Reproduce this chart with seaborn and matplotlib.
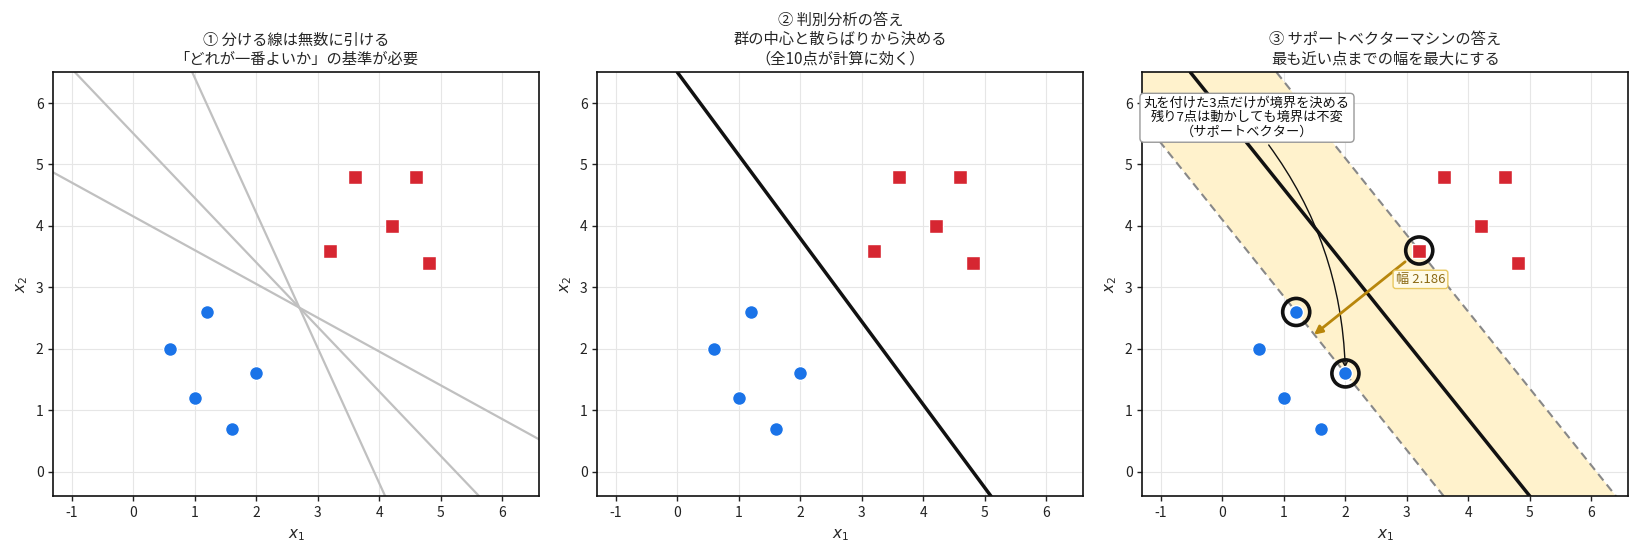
import matplotlib
matplotlib.use("Agg")
import matplotlib.pyplot as plt
import numpy as np
import pandas as pd
import seaborn as sns

# ---------------- data ----------------
blue_x = [0.6, 1.0, 1.2, 1.6, 2.0]
blue_y = [2.0, 1.2, 2.6, 0.7, 1.6]
red_x = [3.2, 3.6, 4.2, 4.6, 4.8]
red_y = [3.6, 4.8, 4.0, 4.8, 3.4]

# panel 1: candidate separating lines through a common point
cand_point = (2.7, 2.67)
cand_slopes = [-0.55, -1.05, -2.2]

# panel 2: discriminant analysis boundary  y = slope*x + intercept
lda_slope = -1.353
lda_intercept = 6.5

# panel 3: SVM boundary and margins  y = slope*x + intercept
svm_slope = -1.25
svm_intercept = 5.85
margin_intercepts = [4.1, 7.6]
sv_x = [1.2, 2.0, 3.2]
sv_y = [2.6, 1.6, 3.6]
margin_width = 2.186
margin_foot = (1.49, 2.23)

titles = [
    "① 分ける線は無数に引ける\n「どれが一番よいか」の基準が必要",
    "② 判別分析の答え\n群の中心と散らばりから決める\n（全10点が計算に効く）",
    "③ サポートベクターマシンの答え\n最も近い点までの幅を最大にする",
]
x_ticks = [-1, 0, 1, 2, 3, 4, 5, 6]
y_ticks = [0, 1, 2, 3, 4, 5, 6]
xlim = (-1.3, 6.6)
ylim = (-0.4, 6.5)

BLUE = "#1a73e8"
RED = "#d62631"

# ---------------- style ----------------
sns.set_theme(style="ticks", rc={
    "axes.edgecolor": "#111111",
    "axes.linewidth": 1.2,
    "xtick.color": "#222222",
    "ytick.color": "#222222",
    "xtick.labelsize": 10,
    "ytick.labelsize": 10,
    "axes.titlesize": 11,
    "axes.labelsize": 11,
    "grid.color": "#e6e6e6",
    "grid.linewidth": 0.8,
})
plt.rcParams['font.family'] = ['Noto Sans CJK JP', 'DejaVu Sans']
plt.rcParams['axes.unicode_minus'] = False

blue_df = pd.DataFrame({"x": blue_x, "y": blue_y})
red_df = pd.DataFrame({"x": red_x, "y": red_y})

fig = plt.figure(figsize=(16.38, 5.58), dpi=100)
W, H = 1638, 558
lefts = [53.3, 597.4, 1142.4]
axes = [fig.add_axes([l / W, (H - 496.3) / H, 486 / W, 424 / H]) for l in lefts]


def draw_points(ax):
    sns.scatterplot(data=blue_df, x="x", y="y", ax=ax, color=BLUE, marker="o",
                    s=100, edgecolor="white", linewidth=1.0, zorder=5, legend=False)
    sns.scatterplot(data=red_df, x="x", y="y", ax=ax, color=RED, marker="s",
                    s=100, edgecolor="white", linewidth=1.0, zorder=5, legend=False)


for ax, title in zip(axes, titles):
    ax.set_xlim(*xlim)
    ax.set_ylim(*ylim)
    ax.set_xticks(x_ticks)
    ax.set_yticks(y_ticks)
    ax.grid(True, zorder=0)
    ax.set_axisbelow(True)
    ax.set_title(title, fontsize=11, linespacing=1.2)
    ax.set_xlabel("$x_1$")
    ax.set_ylabel("$x_2$")
    ax.tick_params(length=3.5, width=1)

# panel 1
ax = axes[0]
for m in cand_slopes:
    ax.axline(cand_point, slope=m, color="#c0c0c0", lw=1.6, zorder=2)
draw_points(ax)

# panel 2
ax = axes[1]
ax.axline((0, lda_intercept), slope=lda_slope, color="#111111", lw=2.5, zorder=3)
draw_points(ax)

# panel 3
ax = axes[2]
xx = np.linspace(xlim[0] - 1, xlim[1] + 1, 200)
ax.fill_between(xx, svm_slope * xx + margin_intercepts[0],
                svm_slope * xx + margin_intercepts[1],
                color="#fff2cc", zorder=1, linewidth=0)
for b in margin_intercepts:
    ax.axline((0, b), slope=svm_slope, color="#888888", lw=1.5,
              linestyle=(0, (4, 2.5)), zorder=2)
ax.axline((0, svm_intercept), slope=svm_slope, color="#111111", lw=2.5, zorder=3)
draw_points(ax)
ax.scatter(sv_x, sv_y, s=380, facecolors="none", edgecolors="#111111",
           linewidths=2.6, zorder=6)

ax.annotate("", xy=margin_foot, xytext=(sv_x[2], sv_y[2]),
            arrowprops=dict(arrowstyle="-|>", color="#b8860b", lw=2,
                            shrinkA=13, shrinkB=0, mutation_scale=12),
            zorder=7)
ax.text(3.22, 3.13, f"幅 {margin_width:.3f}", ha="center", va="center",
        fontsize=9.5, color="#8b6914", zorder=8,
        bbox=dict(boxstyle="round,pad=0.2", facecolor="#fffbe8",
                  edgecolor="#e8c860", lw=1))

ax.annotate("丸を付けた3点だけが境界を決める\n残り7点は動かしても境界は不変\n（サポートベクター）",
            xy=(sv_x[1], sv_y[1]), xytext=(0.4, 5.76),
            ha="center", va="center", fontsize=9.5, color="#111111",
            linespacing=1.1,
            bbox=dict(boxstyle="round,pad=0.3", facecolor="white",
                      edgecolor="#999999", lw=1),
            arrowprops=dict(arrowstyle="->", color="#111111", lw=1,
                            connectionstyle="arc3,rad=-0.18", shrinkB=4,
                            mutation_scale=8),
            zorder=4)

fig.savefig("out.png", dpi=100)
